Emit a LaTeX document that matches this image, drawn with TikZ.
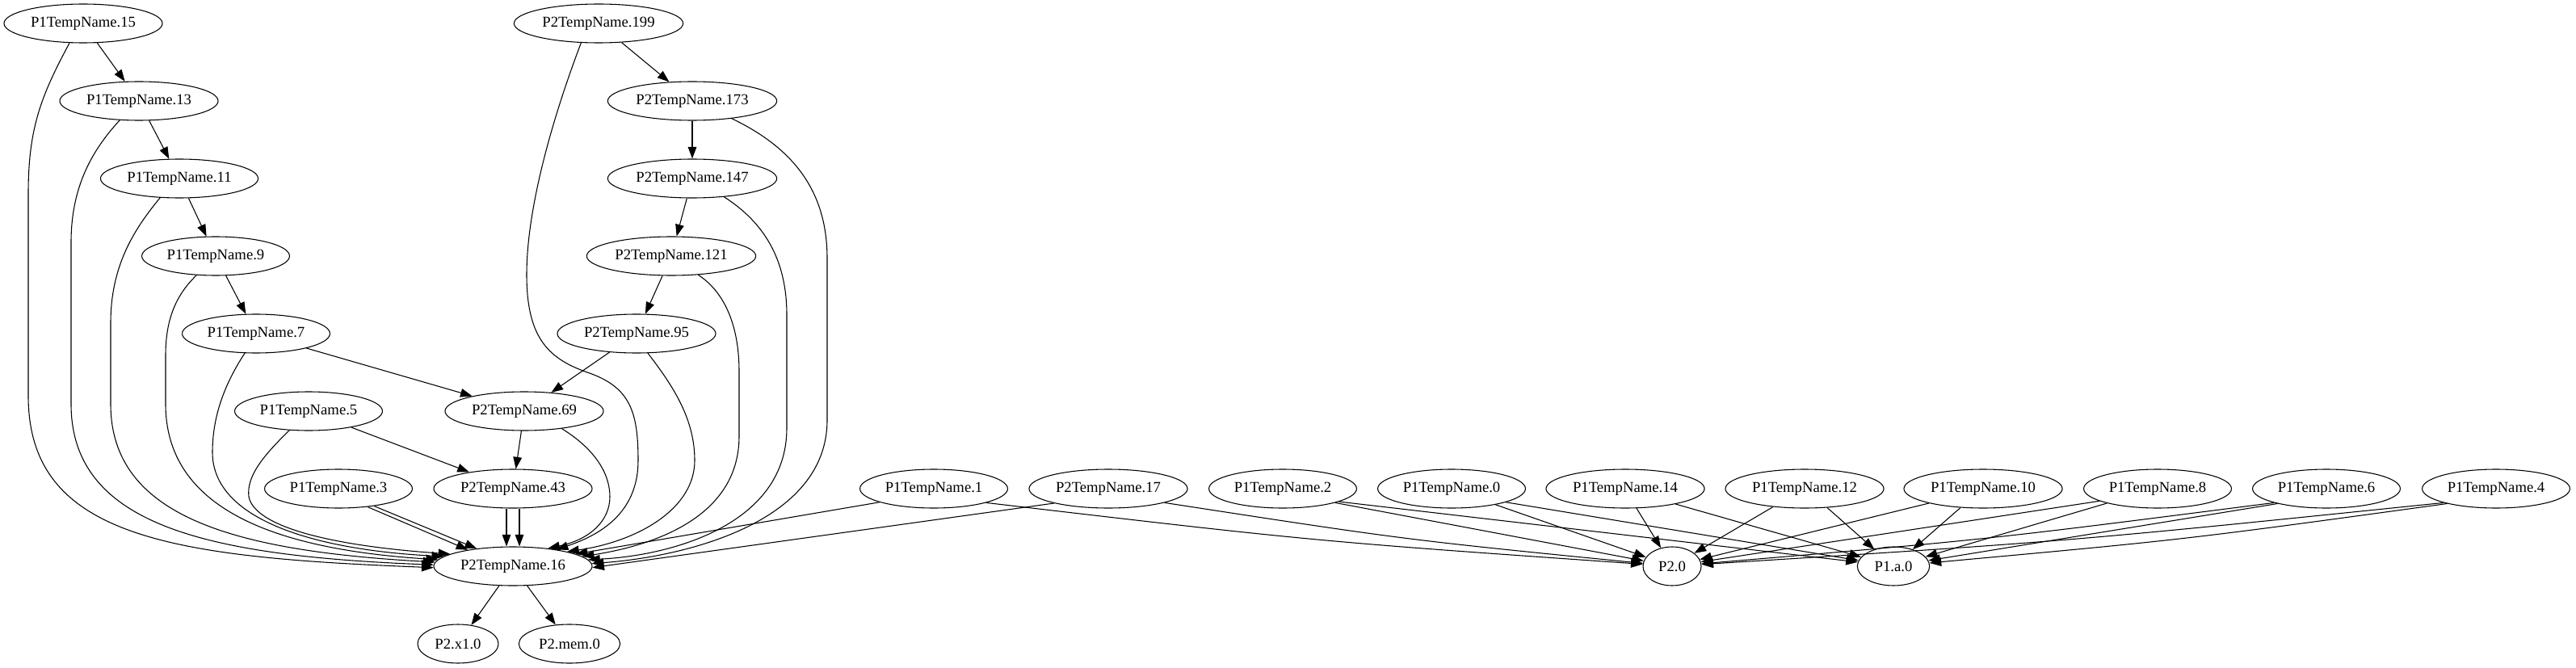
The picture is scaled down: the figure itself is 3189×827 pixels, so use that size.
\documentclass[tikz,border=0pt]{standalone}
\usepackage{fontspec}
\setmainfont{Liberation Serif}
\usetikzlibrary{arrows.meta, shapes.geometric}

\begin{document}
\begin{tikzpicture}[->, >={Triangle[length=11pt, width=8pt]}, thick, x=0.75pt, y=-0.75pt,
	temp node/.style={ellipse, draw, font=\fontsize{14}{16}\selectfont, inner xsep=3.3pt, inner ysep=0pt, minimum height=36pt, minimum width=54pt}]
	\useasboundingbox (0,0) rectangle (3189,827);
	
	% Left column of P1 temps
	\node[temp node] (p1t15) at (103,29) {P1TempName.15};
	\node[temp node] (p1t13) at (172,125) {P1TempName.13};
	\node[temp node] (p1t11) at (222,221) {P1TempName.11};
	\node[temp node] (p1t9) at (267,317) {P1TempName.9};
	\node[temp node] (p1t7) at (317,413) {P1TempName.7};
	\node[temp node] (p1t5) at (382,509) {P1TempName.5};
	\node[temp node] (p1t3) at (419,605) {P1TempName.3};
	
	% Column of P2 temps
	\node[temp node] (p2t199) at (741,29) {P2TempName.199};
	\node[temp node] (p2t173) at (857,125) {P2TempName.173};
	\node[temp node] (p2t147) at (857,221) {P2TempName.147};
	\node[temp node] (p2t121) at (831,317) {P2TempName.121};
	\node[temp node] (p2t95) at (788,413) {P2TempName.95};
	\node[temp node] (p2t69) at (649,509) {P2TempName.69};
	\node[temp node] (p2t43) at (635,605) {P2TempName.43};
	\node[temp node] (p2t16) at (635,701) {P2TempName.16};
	\node[temp node, minimum width=75pt] (p2x1) at (567,797) {P2.x1.0};
	\node[temp node, minimum width=94pt] (p2mem) at (705,797) {P2.mem.0};
	
	% Row on the right
	\node[temp node] (p1t1) at (1156,605) {P1TempName.1};
	\node[temp node] (p2t17) at (1372,605) {P2TempName.17};
	\node[temp node] (p1t2) at (1588,605) {P1TempName.2};
	\node[temp node] (p1t0) at (1797,605) {P1TempName.0};
	\node[temp node] (p1t14) at (2012,605) {P1TempName.14};
	\node[temp node] (p1t12) at (2234,605) {P1TempName.12};
	\node[temp node] (p1t10) at (2455,605) {P1TempName.10};
	\node[temp node] (p1t8) at (2671,605) {P1TempName.8};
	\node[temp node] (p1t6) at (2880,605) {P1TempName.6};
	\node[temp node] (p1t4) at (3090,605) {P1TempName.4};
	\node[temp node] (p20) at (2070,701) {P2.0};
	\node[temp node, minimum width=67pt] (p1a0) at (2344,701) {P1.a.0};
	
	% Chains
	\path (p1t15) edge (p1t13);
	\path (p1t13) edge (p1t11);
	\path (p1t11) edge (p1t9);
	\path (p1t9) edge (p1t7);
	\path (p1t7) edge (p2t69);
	\path (p1t5) edge (p2t43);
	\path (p2t199) edge (p2t173);
	\path (p2t173) edge (p2t147);
	\path (p2t147) edge (p2t121);
	\path (p2t121) edge (p2t95);
	\path (p2t95) edge (p2t69);
	\path (p2t69) edge (p2t43);
	\path (p2t16) edge (p2x1);
	\path (p2t16) edge (p2mem);
	
	% Double edges
	\draw ([xshift=-6pt]p2t43.south) -- ([xshift=-6pt]p2t16.north);
	\draw ([xshift=6pt]p2t43.south) -- ([xshift=6pt]p2t16.north);
	\draw (p1t3.-32) -- (p2t16.160);
	\draw (p1t3.-26) -- (p2t16.154);
	
	% Long curves into P2TempName.16 from the left
	\draw (p1t15.235) .. controls (50,120) and (35,160) .. (35,240) -- (35,490) .. controls (35,665) and (210,690) .. (p2t16.181);
	\draw (p1t13.225) .. controls (115,185) and (88,230) .. (88,300) -- (88,500) .. controls (88,650) and (255,688) .. (p2t16.179);
	\draw (p1t11.225) .. controls (165,285) and (137,330) .. (137,400) -- (137,500) .. controls (137,640) and (290,682) .. (p2t16.177);
	\draw (p1t9.225) .. controls (218,365) and (205,395) .. (205,440) -- (205,500) .. controls (205,630) and (340,680) .. (p2t16.175);
	\draw (p1t7.240) .. controls (275,480) and (263,520) .. (263,560) .. controls (263,640) and (380,680) .. (p2t16.172);
	\draw (p1t5.225) .. controls (325,565) and (305,590) .. (308,615) .. controls (315,650) and (400,675) .. (p2t16.169);
	
	% Long curves into P2TempName.16 from the right
	\draw (p2t199.228) .. controls (690,130) and (652,250) .. (652,340) .. controls (652,420) and (680,445) .. (730,462) .. controls (780,480) and (790,510) .. (790,570) .. controls (790,630) and (750,660) .. (p2t16.21);
	\draw (p2t69.-25) .. controls (735,555) and (755,585) .. (755,615) .. controls (755,645) and (730,668) .. (p2t16.27);
	\draw (p2t95.-60) .. controls (835,480) and (860,520) .. (860,570) .. controls (860,630) and (790,670) .. (p2t16.15);
	\draw (p2t121.-35) .. controls (895,360) and (915,400) .. (915,460) -- (915,540) .. controls (915,640) and (810,675) .. (p2t16.8);
	\draw (p2t147.-30) .. controls (945,275) and (974,320) .. (974,390) -- (974,530) .. controls (974,650) and (830,688) .. (p2t16.5);
	\draw (p2t173.-24) .. controls (975,180) and (1024,230) .. (1024,320) -- (1024,520) .. controls (1024,650) and (840,690) .. (p2t16.2);
	\draw (p1t1.194) -- (p2t16.11);
	\draw (p2t17.195) -- (p2t16.-1);
	
	% Into P2.0 and P1.a.0
	\draw (p1t1.-15) .. controls (1627,670) .. (p20);
	\draw (p2t17.-14) .. controls (1738,668) .. (p20);
	\draw (p1t2.-15) -- (p20);
	\draw (p1t2.-13) -- (p1a0);
	\draw (p1t0.-20) -- (p20);
	\draw (p1t0.-14) -- (p1a0);
	\draw (p1t14.-60) -- (p20);
	\draw (p1t14.-17) -- (p1a0);
	\draw (p1t12.210) -- (p20);
	\draw (p1t12.-40) -- (p1a0);
	\draw (p1t10.195) -- (p20);
	\draw (p1t10.220) -- (p1a0);
	\draw (p1t8.192) -- (p20);
	\draw (p1t8.196) -- (p1a0);
	\draw (p1t6.195) .. controls (2460,668) .. (p20);
	\draw (p1t6.197) -- (p1a0);
	\draw (p1t4.195) .. controls (2563,670) .. (p20);
	\draw (p1t4.197) .. controls (2705,668) .. (p1a0);
\end{tikzpicture}
\end{document}
